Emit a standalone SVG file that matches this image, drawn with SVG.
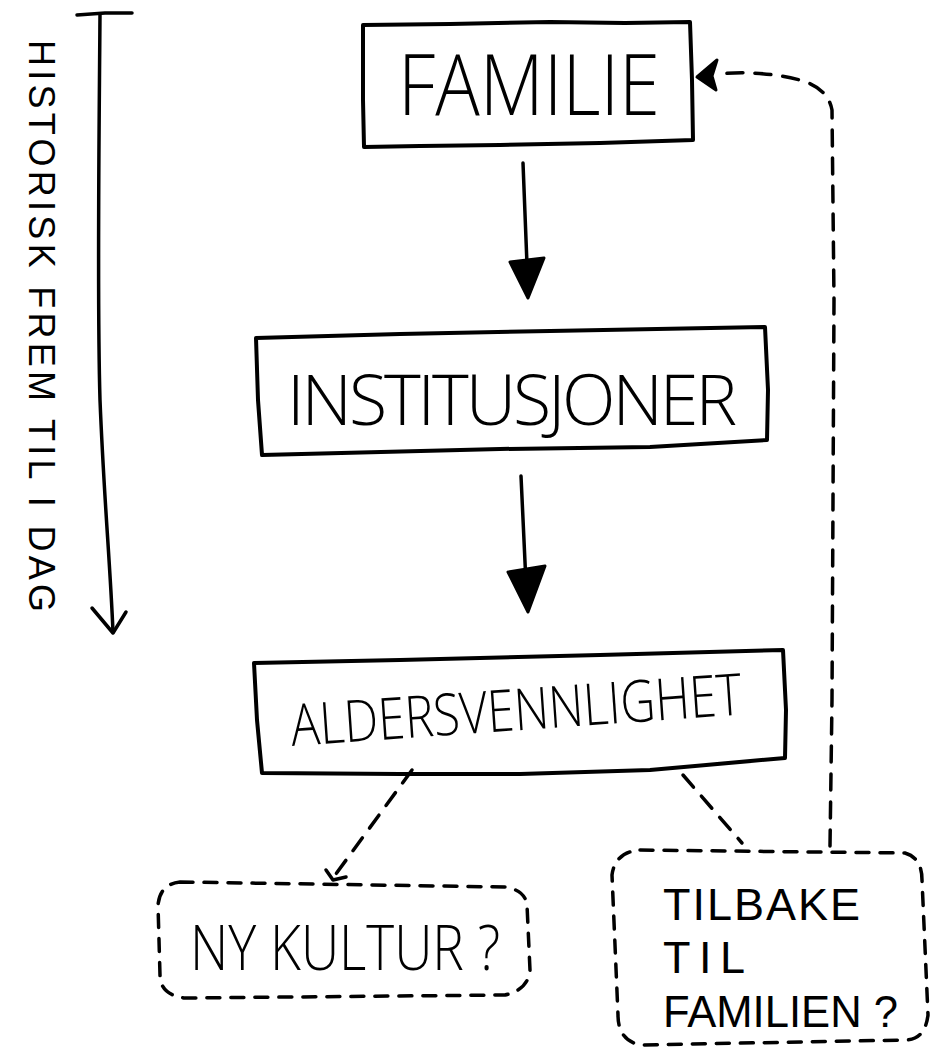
<svg xmlns="http://www.w3.org/2000/svg" width="938" height="1052" viewBox="0 0 938 1052">
<style>
.box{fill:none;stroke:#000;stroke-width:4;stroke-linejoin:round;stroke-linecap:round}
.dbox{fill:none;stroke:#000;stroke-width:3.5;stroke-dasharray:13 11;stroke-linecap:round;stroke-linejoin:round}
.ln{fill:none;stroke:#000;stroke-width:3.5;stroke-linecap:round;stroke-linejoin:round}
.dl{fill:none;stroke:#000;stroke-width:3.5;stroke-dasharray:16 12;stroke-linecap:round}
.head{fill:#000;stroke:#000;stroke-width:3;stroke-linejoin:round}
.t{font-family:"Open Sans","Liberation Sans",Arial,sans-serif;fill:#000;font-weight:300}
.s{font-family:"Liberation Sans",Arial,sans-serif;fill:#000;font-weight:normal}
</style>
<rect width="938" height="1052" fill="#fff"/>
<g id="timeline">
<path class="ln" d="M77,15 L105,13 L132,13"/>
<path class="ln" d="M100,14 C99,150 97,300 100,400 C104,500 110,560 113,632"/>
<path class="ln" d="M92,608 L113,633 L126,612"/>
<text class="s" font-size="36" transform="translate(29,40) rotate(90)" textLength="572" lengthAdjust="spacing">HISTORISK FREM TIL I DAG</text>
</g>
<g id="familie">
<path class="box" d="M363,25 L450,24 L550,22 L625,23 L690,22 L692,80 L693,140 L600,143 L500,145 L420,146 L364,147 L363,100 Z"/>
<text class="t" x="398" y="115" font-size="84" textLength="262" lengthAdjust="spacingAndGlyphs">FAMILIE</text>
</g>
<g id="institusjoner">
<path class="box" d="M256,338 L400,334 L550,331 L765,327 L768,390 L767,440 L650,447 L500,449 L262,455 L258,400 Z"/>
<text class="t" x="287" y="425" font-size="70" textLength="450" lengthAdjust="spacing">INSTITUSJONER</text>
</g>
<g id="aldersvennlighet">
<path class="box" d="M254,663 L400,660 L600,655 L783,650 L786,710 L785,758 L650,770 L520,774 L400,774 L262,773 L257,720 Z"/>
<text class="t" font-size="58" transform="translate(292,746) rotate(-4)" textLength="452" lengthAdjust="spacingAndGlyphs">ALDERSVENNLIGHET</text>
</g>
<g id="nykultur">
<path class="dbox" d="M180,882 L505,887 Q525,890 527,905 L530,970 Q528,990 505,995 L185,998 Q160,995 160,975 L158,905 Q160,884 180,882 Z"/>
<text class="t" x="190" y="970" font-size="62" textLength="310" lengthAdjust="spacingAndGlyphs">NY KULTUR ?</text>
</g>
<g id="tilbake">
<path class="dbox" d="M640,850 L905,853 Q922,858 922,880 L928,1015 Q925,1040 905,1040 L640,1045 Q618,1040 618,1015 L612,875 Q615,852 640,850 Z"/>
<text class="s" x="663" y="920" font-size="45" textLength="197" lengthAdjust="spacing">TILBAKE</text>
<text class="s" x="663" y="973" font-size="45" textLength="82" lengthAdjust="spacing">TIL</text>
<text class="s" x="663" y="1027" font-size="45" textLength="235" lengthAdjust="spacingAndGlyphs">FAMILIEN ?</text>
</g>
<g id="connectors">
<path class="ln" d="M523,163 L528,290"/>
<polygon class="head" points="510,262 544,258 528,298"/>
<path class="ln" d="M521,476 L527,605"/>
<polygon class="head" points="508,572 545,566 528,612"/>
<path class="dl" d="M412,770 L333,878"/>
<path class="ln" d="M326,870 L333,880 L346,877"/>
<path class="dl" d="M683,775 L742,843"/>
<path class="dl" d="M830,846 L832,700 L834,300 L832,110 Q828,88 800,80 Q760,70 718,74"/>
<polygon class="head" points="697,77 717,60 712,76 716,90"/>
</g>
</svg>
